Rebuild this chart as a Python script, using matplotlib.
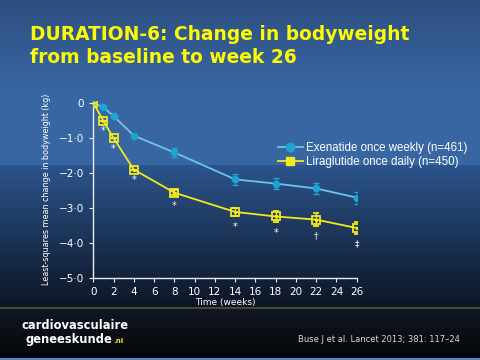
import numpy as np
import matplotlib.pyplot as plt
from matplotlib.lines import Line2D

# data
weeks = [0, 1, 2, 4, 8, 14, 18, 22, 26]
exenatide = [0, -0.13, -0.38, -0.94, -1.42, -2.19, -2.31, -2.45, -2.71]
exenatide_err = [0, 0, 0, 0, 0.14, 0.15, 0.15, 0.16, 0.17]
liraglutide = [0, -0.52, -1.01, -1.91, -2.57, -3.12, -3.25, -3.34, -3.58]
liraglutide_err = [0, 0, 0, 0, 0.08, 0.12, 0.16, 0.18, 0.17]
signif = ['', '*', '*', '*', '*', '*', '*', '\u2020', '\u2021']
yticks = [0, -1, -2, -3, -4, -5]
ytick_labels = ['0', '\u22121\u00b70', '\u22122\u00b70', '\u22123\u00b70', '\u22124\u00b70', '\u22125\u00b70']

exe_col = '#1ea4d2'
exe_line = '#6cc6e6'
lira_col = '#f2ea1c'

fig = plt.figure(figsize=(4.8, 3.6), dpi=100)

# slide background
bg = fig.add_axes([0, 0, 1, 1])
bg.set_axis_off()
top = np.array([[0.18, 0.31, 0.50], [0.22, 0.40, 0.64], [0.22, 0.40, 0.64]])
grad = np.zeros((360, 1, 3))
for i in range(360):
    if i < 90:
        c = top[0] + (top[1] - top[0]) * i / 90
    elif i < 165:
        c = top[1]
    elif i < 307:
        t = (i - 165) / 142
        c = np.array([0.17, 0.33, 0.55]) * (1 - t) + np.array([0.05, 0.08, 0.14]) * t
    else:
        t = (i - 307) / 53
        c = np.array([0.07, 0.09, 0.14]) * (1 - t) + np.array([0.01, 0.02, 0.03]) * t
    grad[i, 0] = c
bg.imshow(grad, aspect='auto', extent=[0, 480, 360, 0])
bg.set_xlim(0, 480)
bg.set_ylim(360, 0)
bg.axhline(307.5, color='#4a5a2a', lw=1.2)
bg.axhline(359, color='#5a84b8', lw=1.5)

fig.text(30 / 480, 1 - 40 / 360, 'DURATION-6: Change in bodyweight',
         color='#ffff00', fontsize=13.4, fontweight='bold', va='baseline')
fig.text(30 / 480, 1 - 63 / 360, 'from baseline to week 26',
         color='#ffff00', fontsize=13.4, fontweight='bold', va='baseline')

fig.text(21 / 480, 1 - 329 / 360, 'cardiovasculaire', color='white', fontsize=8.3,
         fontweight='bold', va='baseline')
fig.text(26 / 480, 1 - 343 / 360, 'geneeskunde', color='white', fontsize=8.3,
         fontweight='bold', va='baseline')
fig.text(113 / 480, 1 - 343 / 360, '.nl', color='#f0e020', fontsize=5,
         fontweight='bold', va='baseline')
fig.text(298 / 480, 1 - 342 / 360, 'Buse J et al. Lancet 2013; 381: 117\u201324',
         color='#d8d8d8', fontsize=6, va='baseline')

# chart
ax = fig.add_axes([93.3 / 480, 1 - 277.7 / 360, 263.4 / 480, 176.7 / 360])
ax.set_facecolor('none')
ax.errorbar(weeks, exenatide, yerr=exenatide_err, color=exe_line, lw=1.3,
            marker='o', ms=4.5, mfc=exe_col, mec=exe_col, ecolor=exe_col,
            elinewidth=1, capsize=2.5, zorder=3)
ax.errorbar(weeks, liraglutide, yerr=liraglutide_err, color=lira_col, lw=1.3,
            marker='s', ms=5.2, mfc='none', mec=lira_col, mew=1.3, ecolor=lira_col,
            elinewidth=1, capsize=2.5, zorder=4)
ax.plot(weeks, liraglutide, ls='none', marker='s', ms=1.3, color=lira_col, zorder=5)
for w, v, e, s in zip(weeks, liraglutide, liraglutide_err, signif):
    if s:
        ax.annotate(s, (w, v - e), xytext=(0, -4),
                    textcoords='offset points', ha='center', va='top',
                    color='white', fontsize=7 if s == '*' else 6.5)

ax.set_xlim(0, 26)
ax.set_ylim(-5, 0.05)
ax.set_xticks(range(0, 27, 2))
ax.set_yticks(yticks)
ax.set_yticklabels(ytick_labels)
for side in ['top', 'right']:
    ax.spines[side].set_visible(False)
for side in ['left', 'bottom']:
    ax.spines[side].set_color('#e8eef6')
    ax.spines[side].set_linewidth(1)
ax.tick_params(colors='#e8eef6', labelcolor='white', labelsize=7.5, length=3, width=0.8)
ax.set_xlabel('Time (weeks)', color='white', fontsize=6.5, labelpad=1)
ax.set_ylabel('Least-squares mean change in bodyweight (kg)', color='white', fontsize=5.8,
              labelpad=6)

handles = [
    Line2D([], [], color=exe_line, lw=1.3, marker='o', ms=6, mfc=exe_col, mec=exe_col),
    Line2D([], [], color=lira_col, lw=1.3, marker='s', ms=6, mfc=lira_col, mec=lira_col),
]
fig.legend(handles, ['Exenatide once weekly (n=461)', 'Liraglutide once daily (n=450)'],
           loc='center left', bbox_to_anchor=(268 / 480, 1 - 155 / 360), frameon=False,
           prop={'family': 'Liberation Sans', 'size': 8.3}, labelcolor='white',
           handlelength=2.1, handletextpad=0.3, labelspacing=0.1)

fig.savefig('out.png', dpi=100)
